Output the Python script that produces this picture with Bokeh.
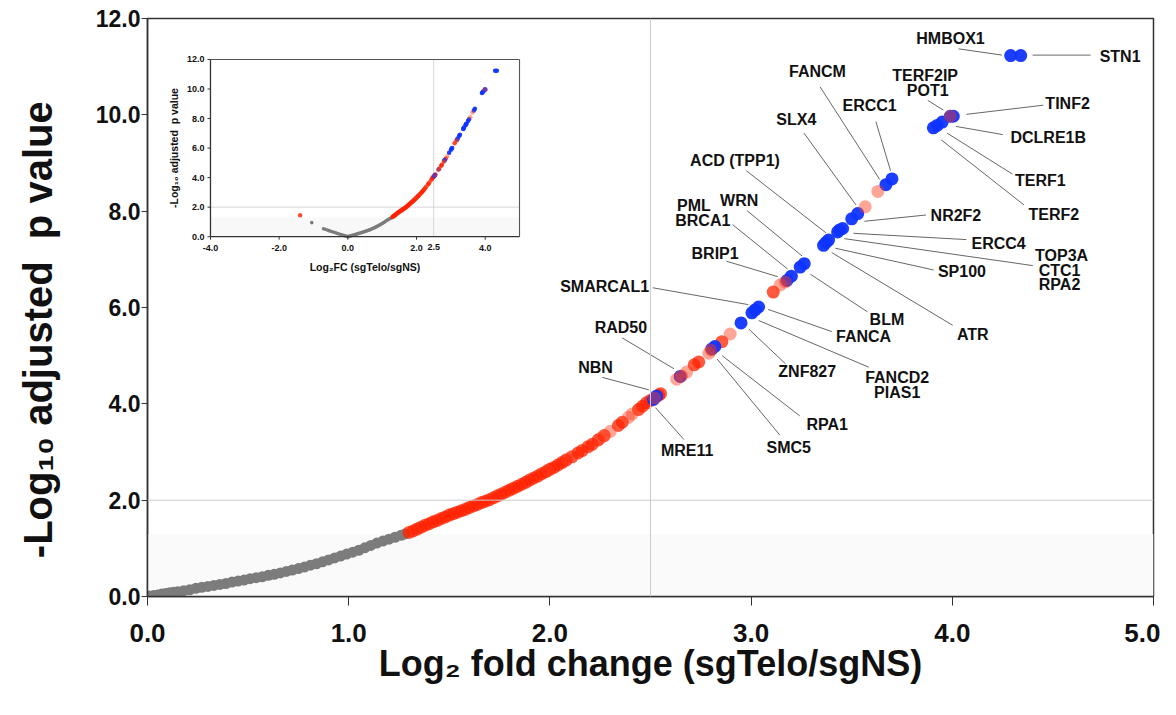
import math
from bokeh.plotting import figure
from bokeh.models import (Span, BoxAnnotation, Label, FixedTicker,
                          NumeralTickFormatter, GridBox, Range1d)
from bokeh.embed import file_html
from bokeh.resources import INLINE
from bokeh.core.properties import value

# ---------------- data ----------------
gray_x = [-1.05, -0.71, -0.66, -0.60, -0.55, -0.50, -0.45, -0.40, -0.35, -0.30,
          -0.25, -0.20, -0.15, -0.10, -0.05, -0.02,
          0.00, 0.01, 0.03, 0.05, 0.07, 0.09, 0.11, 0.13, 0.15, 0.18, 0.21, 0.24,
          0.27, 0.30, 0.33, 0.36, 0.39, 0.42, 0.45, 0.48, 0.51, 0.54, 0.57, 0.60,
          0.63, 0.66, 0.69, 0.72, 0.75, 0.78, 0.81, 0.84, 0.87, 0.90, 0.93, 0.96,
          0.99, 1.02, 1.05, 1.08, 1.11, 1.14, 1.17, 1.20, 1.23, 1.26, 1.28]
gray_y = [0.95, 0.54, 0.50, 0.45, 0.41, 0.37, 0.33, 0.30, 0.26, 0.22,
          0.18, 0.15, 0.11, 0.07, 0.04, 0.01,
          0.00, 0.01, 0.02, 0.03, 0.05, 0.06, 0.08, 0.09, 0.10, 0.12, 0.14, 0.17,
          0.19, 0.21, 0.23, 0.25, 0.27, 0.30, 0.32, 0.34, 0.37, 0.39, 0.41, 0.44,
          0.46, 0.49, 0.52, 0.55, 0.58, 0.61, 0.65, 0.68, 0.72, 0.76, 0.80, 0.84,
          0.88, 0.92, 0.96, 1.01, 1.06, 1.11, 1.15, 1.19, 1.23, 1.27, 1.30]

red_x = [1.30, 1.32, 1.34, 1.36, 1.38, 1.40, 1.42, 1.44, 1.46, 1.48, 1.50, 1.52,
         1.54, 1.56, 1.58, 1.60, 1.62, 1.64, 1.66, 1.68, 1.70, 1.72, 1.74, 1.76,
         1.78, 1.80, 1.82, 1.84, 1.86, 1.88, 1.90, 1.92, 1.94, 1.96, 1.98, 2.00,
         2.02, 2.04, 2.06, 2.08, 2.11, 2.14, 2.16, 2.19, 2.21, 2.24, 2.27, 2.34,
         2.36, 2.44, 2.46, 2.48, 2.50, 2.54, 2.55, 2.717, 2.74, 2.855, 3.11, -1.39]
red_y = [1.33, 1.36, 1.40, 1.44, 1.48, 1.51, 1.55, 1.58, 1.62, 1.65, 1.69, 1.72,
         1.75, 1.78, 1.81, 1.85, 1.88, 1.91, 1.95, 1.98, 2.01, 2.05, 2.09, 2.13,
         2.17, 2.21, 2.25, 2.29, 2.33, 2.37, 2.42, 2.46, 2.50, 2.55, 2.59, 2.64,
         2.68, 2.73, 2.78, 2.83, 2.90, 2.98, 3.03, 3.11, 3.16, 3.25, 3.34, 3.55,
         3.62, 3.88, 3.95, 4.02, 4.07, 4.18, 4.21, 4.81, 4.87, 5.29, 6.32, 1.46]

salmon_x = [1.99, 2.085, 2.25, 2.30, 2.39, 2.41, 2.52, 2.63, 2.655, 2.68, 2.79,
            2.80, 2.896, 3.145, 3.17, 3.567, 3.63, 3.99]
salmon_y = [2.62, 2.85, 3.28, 3.43, 3.72, 3.79, 4.12, 4.51, 4.58, 4.66, 5.05,
            5.12, 5.45, 6.47, 6.53, 8.09, 8.41, 9.97]

blue_x = [2.515, 2.53, 2.648, 2.805, 2.82, 2.95, 3.004, 3.02, 3.037, 3.178, 3.20,
          3.244, 3.264, 3.36, 3.372, 3.385, 3.43, 3.44, 3.455, 3.50, 3.53, 3.67,
          3.70, 3.906, 3.925, 3.95, 3.99, 4.005, 4.29, 4.34]
blue_y = [4.09, 4.16, 4.57, 5.14, 5.19, 5.68, 5.89, 5.95, 6.01, 6.56, 6.65,
          6.84, 6.91, 7.29, 7.35, 7.40, 7.57, 7.61, 7.64, 7.84, 7.95, 8.55,
          8.67, 9.73, 9.78, 9.85, 9.97, 9.97, 11.23, 11.23]

y_ticks = [0, 2, 4, 6, 8, 10, 12]
x_ticks = [0, 1, 2, 3, 4, 5]
inset_x_ticks = [-4, -2, 0, 2, 4]
inset_x_labels = ["-4.0", "-2.0", "0.0", "2.0", "4.0"]
inset_y_labels = ["0.0", "2.0", "4.0", "6.0", "8.0", "10.0", "12.0"]

# gene annotations: text, text position, leader line (start -> end)
annotations = [
    ("HMBOX1", 3.991, 11.59, 4.031, 11.37, 4.247, 11.24),
    ("STN1", 4.834, 11.21, 4.399, 11.24, 4.687, 11.24),
    ("FANCM", 3.330, 10.89, 3.343, 10.58, 3.639, 8.66),
    ("TERF2IP", 3.865, 10.82, 3.878, 10.30, 3.955, 10.10),
    ("POT1", 3.878, 10.51, None, None, None, None),
    ("TINF2", 4.573, 10.24, 4.452, 10.20, 4.070, 10.01),
    ("DCLRE1B", 4.477, 9.53, 4.251, 9.59, 4.018, 9.76),
    ("TERF1", 4.438, 8.63, 4.299, 8.77, 3.974, 9.62),
    ("TERF2", 4.505, 7.93, 4.356, 8.13, 3.945, 9.48),
    ("ERCC1", 3.589, 10.20, 3.620, 9.86, 3.693, 8.84),
    ("SLX4", 3.225, 9.90, 3.263, 9.62, 3.521, 8.13),
    ("ACD (TPP1)", 2.920, 9.06, 2.976, 8.84, 3.372, 7.55),
    ("NR2F2", 4.018, 7.92, 3.869, 7.92, 3.563, 7.79),
    ("ERCC4", 4.230, 7.32, 4.070, 7.41, 3.509, 7.54),
    ("TOP3A", 4.543, 7.08, 4.400, 6.87, 3.463, 7.43),
    ("CTC1", 4.533, 6.77, None, None, None, None),
    ("RPA2", 4.533, 6.47, None, None, None, None),
    ("SP100", 4.048, 6.75, 3.907, 6.78, 3.419, 7.23),
    ("ATR", 4.102, 5.44, 4.002, 5.63, 3.401, 7.14),
    ("PML", 2.716, 8.11, None, None, None, None),
    ("BRCA1", 2.760, 7.81, 2.908, 7.72, 3.181, 6.80),
    ("WRN", 2.941, 8.22, 2.980, 8.01, 3.253, 7.07),
    ("BRIP1", 2.821, 7.13, 2.878, 6.96, 3.133, 6.64),
    ("SMARCAL1", 2.272, 6.43, 2.511, 6.41, 2.986, 6.06),
    ("BLM", 3.675, 5.75, 3.578, 5.91, 3.295, 6.69),
    ("FANCA", 3.559, 5.40, 3.401, 5.50, 3.085, 5.96),
    ("RAD50", 2.353, 5.58, 2.359, 5.37, 2.616, 4.73),
    ("NBN", 2.227, 4.75, 2.260, 4.55, 2.492, 4.29),
    ("MRE11", 2.682, 3.04, 2.666, 3.26, 2.525, 3.92),
    ("SMC5", 3.187, 3.09, 3.143, 3.35, 2.831, 4.93),
    ("RPA1", 3.378, 3.58, 3.242, 3.75, 2.856, 5.00),
    ("ZNF827", 3.279, 4.67, 3.171, 4.83, 2.989, 5.55),
    ("FANCD2", 3.726, 4.55, 3.585, 4.76, 3.038, 5.73),
    ("PIAS1", 3.726, 4.24, None, None, None, None),
]

GRAY = "#7c7c7c"
RED = "#ff2200"
BLUE = "#0f34ff"
SALMON = "#ff3a18"
FONT = "Liberation Sans"

# ---------------- main figure ----------------
p = figure(width=1160, height=700, x_range=Range1d(0, 5), y_range=Range1d(0, 12),
           output_backend="svg", toolbar_location=None,
           min_border_left=147, min_border_right=7, min_border_top=18,
           min_border_bottom=104)
p.grid.visible = False
p.outline_line_color = "#333333"
p.outline_line_width = 1.5
p.xaxis.ticker = FixedTicker(ticks=x_ticks)
p.yaxis.ticker = FixedTicker(ticks=y_ticks)
p.xaxis.axis_label = "Log\u2082 fold change (sgTelo/sgNS)"
p.yaxis.axis_label = "-Log\u2081\u2080 adjusted\u00a0 p value\u00a0\u00a0\u00a0\u00a0"
for ax in (p.xaxis, p.yaxis):
    ax.formatter = NumeralTickFormatter(format="0.0")
    ax.minor_tick_line_color = None
    ax.major_tick_in = 0
    ax.axis_line_color = "#333333"
    ax.axis_line_width = 1.5
    ax.major_tick_line_color = "#333333"
    ax.major_label_text_font = FONT
    ax.major_label_text_font_style = "bold"
    ax.major_label_text_color = "#111111"
    ax.axis_label_text_font = FONT
    ax.axis_label_text_font_style = "bold"
    ax.axis_label_text_color = "#111111"
p.xaxis.major_tick_out = 9
p.xaxis.major_label_text_font_size = "26px"
p.xaxis.major_label_standoff = 18
p.xaxis.axis_label_text_font_size = "36px"
p.xaxis.axis_label_standoff = -2
p.yaxis.major_tick_out = 6
p.yaxis.major_label_text_font_size = "23px"
p.yaxis.major_label_standoff = 1
p.yaxis.axis_label_text_font_size = "40px"
p.yaxis.axis_label_standoff = 33

p.add_layout(BoxAnnotation(bottom=0, top=1.3, fill_color="#fafafa", fill_alpha=1.0,
                           line_color=None, level="underlay"))
p.add_layout(Span(location=2.5, dimension="height", line_color="#cccccc", line_width=1))
p.add_layout(Span(location=2.0, dimension="width", line_color="#cccccc", line_width=1))

p.scatter(gray_x, gray_y, size=11, color=GRAY, line_color=None)
p.scatter(red_x, red_y, size=13, color=RED, alpha=0.75, line_color=None)
p.scatter(blue_x, blue_y, size=13, color=BLUE, alpha=0.95, line_color=None)
p.scatter(salmon_x, salmon_y, size=13, color=SALMON, alpha=0.45, line_color=None)

seg = [a for a in annotations if a[3] is not None]
p.segment(x0=[a[3] for a in seg], y0=[a[4] for a in seg],
          x1=[a[5] for a in seg], y1=[a[6] for a in seg],
          line_color="#555555", line_width=0.9)
p.text(x=[a[1] for a in annotations], y=[a[2] for a in annotations],
       text=[a[0] for a in annotations], text_font=value(FONT),
       text_font_style="bold", text_font_size="16px", text_color="#111111",
       text_align="center", text_baseline="middle")
p.add_layout(Label(x=2.5, y=-0.62, text="2.5", text_font=FONT,
                   text_font_style="bold", text_font_size="26px",
                   text_color="#111111", text_align="center",
                   text_baseline="middle"))

# ---------------- inset (own scales mapped into a box of the main frame) ----
box_l, box_r, box_b, box_t = 0.313, 1.849, 7.47, 11.15   # placement, main units
ix0, ix1, iy0, iy1 = -4.0, 5.0, 0.0, 12.0                  # inset data ranges
sx = (ix1 - ix0) / (box_r - box_l)
sy = (iy1 - iy0) / (box_t - box_b)
xlo = ix0 - box_l * sx
ylo = iy0 - box_b * sy
p.extra_x_ranges = {"ix": Range1d(xlo, xlo + 5 * sx)}
p.extra_y_ranges = {"iy": Range1d(ylo, ylo + 12 * sy)}
kw = dict(x_range_name="ix", y_range_name="iy")
px_x = 201.2 / sx   # pixels per inset x unit
px_y = 48.17 / sy   # pixels per inset y unit

p.quad(left=[ix0], right=[ix1], bottom=[0], top=[1.3], fill_color="#f8f8f8",
       line_color=None, **kw)
p.segment(x0=[2.5, ix0], y0=[iy0, 2.0], x1=[2.5, ix1], y1=[iy1, 2.0],
          line_color="#cccccc", line_width=0.8, **kw)
p.scatter(gray_x, gray_y, size=3.6, color=GRAY, line_color=None, **kw)
p.scatter(red_x, red_y, size=4.5, color=RED, alpha=0.8, line_color=None, **kw)
p.scatter(blue_x, blue_y, size=4.5, color=BLUE, alpha=0.95, line_color=None, **kw)
p.scatter(salmon_x, salmon_y, size=4.5, color=SALMON, alpha=0.45, line_color=None, **kw)
# frame
p.segment(x0=[ix0, ix1], y0=[iy1, iy0], x1=[ix1, ix1], y1=[iy1, iy1],
          line_color="#555555", line_width=1.1, **kw)
p.segment(x0=[ix0, ix0], y0=[iy0, iy0], x1=[ix1, ix0], y1=[iy0, iy1],
          line_color="#333333", line_width=1.3, **kw)
# ticks
p.segment(x0=inset_x_ticks, y0=[iy0] * len(inset_x_ticks), x1=inset_x_ticks,
          y1=[iy0 - 3 / px_y] * len(inset_x_ticks), line_color="#333333",
          line_width=1, **kw)
p.segment(x0=[ix0] * len(y_ticks), y0=y_ticks, x1=[ix0 - 3 / px_x] * len(y_ticks),
          y1=y_ticks, line_color="#333333", line_width=1, **kw)
# tick labels
tick_style = dict(text_font=value(FONT), text_font_style="bold",
                  text_font_size="9px", text_color="#111111")
p.text(x=inset_x_ticks, y=[iy0 - 11 / px_y] * len(inset_x_ticks),
       text=inset_x_labels, text_align="center", text_baseline="middle",
       **tick_style, **kw)
p.text(x=[2.5], y=[iy0 - 10 / px_y], text=["2.5"], text_align="center",
       text_baseline="middle", **tick_style, **kw)
p.text(x=[ix0 - 6 / px_x] * len(y_ticks), y=y_ticks, text=inset_y_labels,
       text_align="right", text_baseline="middle", **tick_style, **kw)
# axis labels
lab_style = dict(text_font=value(FONT), text_font_style="bold",
                 text_font_size="10.5px", text_color="#111111",
                 text_align="center", text_baseline="middle")
p.text(x=[(ix0 + ix1) / 2], y=[iy0 - 30 / px_y], text=["Log\u2082FC (sgTelo/sgNS)"],
       **lab_style, **kw)
p.text(x=[ix0 - 36 / px_x], y=[(iy0 + iy1) / 2],
       text=["-Log\u2081\u2080 adjusted\u00a0 p value"], angle=math.pi / 2,
       **lab_style, **kw)

layout = GridBox(children=[(p, 0, 0)])

open("out.html", "w").write(file_html(layout, INLINE))
